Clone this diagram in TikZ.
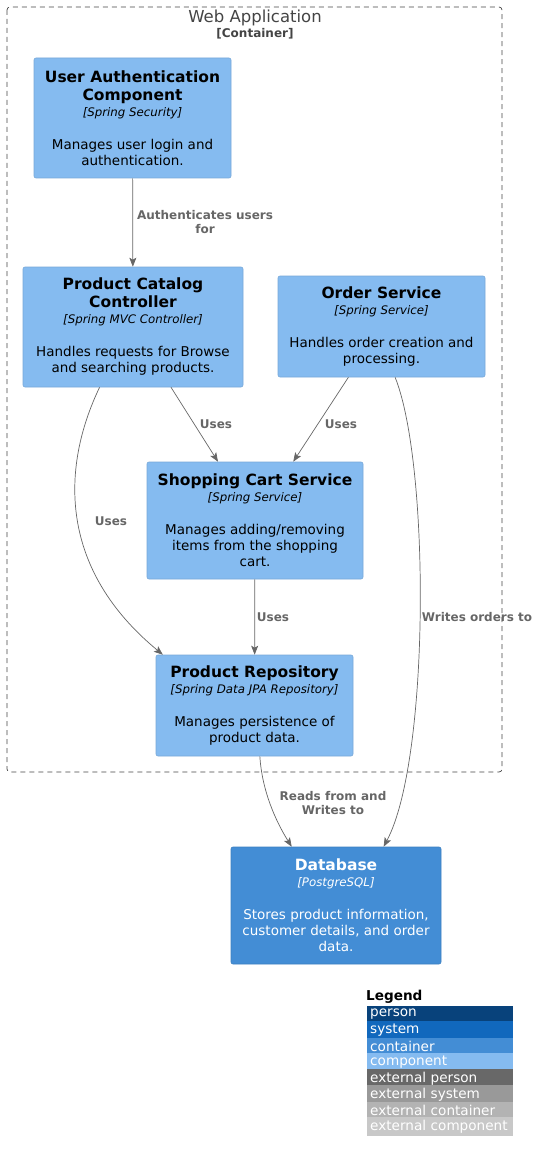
\documentclass[tikz,border=0pt]{standalone}
\usepackage{fontspec}
\setmainfont{DejaVu Sans}[ItalicFont={DejaVu Sans Oblique},BoldFont={DejaVu Sans Bold}]
\usetikzlibrary{arrows.meta,positioning}
\definecolor{compfill}{HTML}{85BBF0}
\definecolor{compline}{HTML}{78A8D8}
\definecolor{contfill}{HTML}{438DD5}
\definecolor{contline}{HTML}{3C7FC0}
\definecolor{relcol}{HTML}{666666}
\definecolor{boundcol}{HTML}{444444}
\definecolor{legperson}{HTML}{08427B}
\definecolor{legsystem}{HTML}{1168BD}
\definecolor{legcontainer}{HTML}{438DD5}
\definecolor{legcomponent}{HTML}{85BBF0}
\definecolor{legextperson}{HTML}{686868}
\definecolor{legextsystem}{HTML}{999999}
\definecolor{legextcontainer}{HTML}{B3B3B3}
\definecolor{legextcomponent}{HTML}{C8C8C8}
\newcommand{\ctitle}{\fontsize{15.5}{18}\selectfont\bfseries}
\newcommand{\ctech}{\fontsize{11.8}{16}\selectfont\itshape}
\newcommand{\cdesc}{\fontsize{13.5}{16}\selectfont}
\tikzset{
	comp/.style={draw=compline,fill=compfill,rounded corners=2pt,line width=.6pt,align=center,inner sep=0,font=\fontsize{13.5}{16}\selectfont},
	cont/.style={comp,draw=contline,fill=contfill,text=white},
	rel/.style={->,>={Stealth[width=7pt,length=9pt,inset=2pt]},color=relcol,line width=.7pt},
	rellabel/.style={text=relcol,font=\fontsize{12}{14}\selectfont\bfseries,align=center,inner sep=0},
	boundary/.style={draw=boundcol,dash pattern=on 5pt off 4pt,rounded corners=3pt,line width=.7pt},
	legrow/.style={anchor=west,minimum width=146pt,minimum height=15.2pt,inner sep=3pt,text width=140pt,align=left,text=white,font=\fontsize{13.6}{15}\selectfont}
}
\begin{document}
\begin{tikzpicture}[x=1pt,y=-1pt]
	\useasboundingbox (0,0) rectangle (543,1161);
	
	%%%% container boundary
	\draw[boundary] (7,7) rectangle (502,772);
	\node[text=boundcol,font=\fontsize{16.5}{18}\selectfont] (webapp) at (255,18) {Web Application};
	\node[text=boundcol,font=\fontsize{12}{14}\selectfont\bfseries] (webtype) at (255,34) {[Container]};
	
	%%%% components
	\node[comp,minimum width=197,minimum height=120] (auth) at (132.5,118)
		{\ctitle User Authentication\\[2pt]\ctitle Component\\\ctech [Spring Security]\\[17pt]\cdesc Manages user login and\\\cdesc authentication.};
	\node[comp,minimum width=220,minimum height=120] (catalog) at (133,327)
		{\ctitle Product Catalog\\[2pt]\ctitle Controller\\\ctech [Spring MVC Controller]\\[17pt]\cdesc Handles requests for Browse\\\cdesc and searching products.};
	\node[comp,minimum width=207,minimum height=101] (order) at (381.5,326.5)
		{\ctitle Order Service\\\ctech [Spring Service]\\[17pt]\cdesc Handles order creation and\\\cdesc processing.};
	\node[comp,minimum width=216,minimum height=117] (cart) at (255,520.5)
		{\ctitle Shopping Cart Service\\\ctech [Spring Service]\\[17pt]\cdesc Manages adding/removing\\\cdesc items from the shopping\\\cdesc cart.};
	\node[comp,minimum width=197,minimum height=101] (repo) at (254.5,705.5)
		{\ctitle Product Repository\\\ctech [Spring Data JPA Repository]\\[17pt]\cdesc Manages persistence of\\\cdesc product data.};
	
	%%%% database
	\node[cont,minimum width=210,minimum height=117] (db) at (336,905.5)
		{\ctitle Database\\\ctech [PostgreSQL]\\[17pt]\cdesc Stores product information,\\\cdesc customer details, and order\\\cdesc data.};
	
	%%%% relations
	\draw[rel] (auth) -- (catalog);
	\node[rellabel] (l1) at (205,222) {Authenticates users\\for};
	\draw[rel] (catalog) -- (cart);
	\node[rellabel] (l2) at (216,424) {Uses};
	\draw[rel] (order) -- (cart);
	\node[rellabel] (l3) at (341,424) {Uses};
	\draw[rel] (catalog.241) .. controls (60,470) and (60,570) .. (repo.151);
	\node[rellabel] (l4) at (111,521) {Uses};
	\draw[rel] (cart) -- (repo);
	\node[rellabel] (l5) at (273,617) {Uses};
	\draw[rel] (order.285) .. controls (430,464) and (430,760) .. (db.51);
	\node[rellabel] (l6) at (477,617) {Writes orders to};
	\draw[rel] (repo.276) .. controls (262,790) and (275,820) .. (db.127);
	\node[rellabel] (l7) at (333,803) {Reads from and\\Writes to};
	
	%%%% legend
	\node[anchor=west,inner sep=0,font=\fontsize{13.6}{15}\selectfont\bfseries] (legend) at (366,997) {Legend};
	\foreach \lbl/\col [count=\i] in {person/legperson,system/legsystem,container/legcontainer,component/legcomponent,external person/legextperson,external system/legextsystem,external container/legextcontainer,external component/legextcomponent}
		\node[legrow,fill=\col] (leg\i) at (367,{997.95+16.1*\i}) {\lbl};
\end{tikzpicture}
\end{document}
